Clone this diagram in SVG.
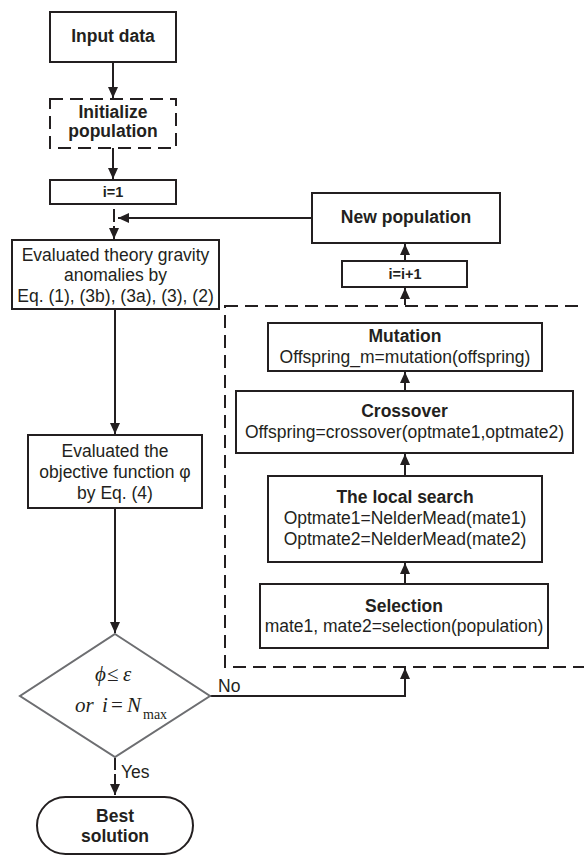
<svg xmlns="http://www.w3.org/2000/svg" width="584" height="856" viewBox="0 0 584 856">
<defs>
<style>
.box{fill:#fff;stroke:#231f20;stroke-width:2}
.dash{fill:none;stroke:#231f20;stroke-width:2;stroke-dasharray:13 7}
.dia{fill:#fff;stroke:#6d6e71;stroke-width:2}
.t{font-family:"Liberation Sans",Arial,sans-serif;font-size:17.5px;fill:#231f20;text-anchor:middle}
.b{font-family:"Liberation Sans",Arial,sans-serif;font-size:17.5px;font-weight:bold;fill:#231f20;text-anchor:middle}
.s{font-family:"Liberation Sans",Arial,sans-serif;font-size:14.5px;font-weight:bold;fill:#231f20;text-anchor:middle}
.m{font-family:"Liberation Serif","Times New Roman",serif;font-size:21px;fill:#231f20}
.c{fill:none;stroke:#231f20;stroke-width:2}
</style>
<marker id="ah" markerUnits="userSpaceOnUse" markerWidth="12" markerHeight="12" viewBox="0 0 12 12" refX="11" refY="6" orient="auto">
<path d="M0,1 L11,6 L0,11 z" fill="#231f20"/>
</marker>
</defs>
<rect width="584" height="856" fill="#fff"/>

<g id="loop-region">
<rect class="dash" x="225" y="306" width="380" height="361"/>
</g>

<g id="connectors">
<line class="c" x1="113" y1="62" x2="113" y2="98" marker-end="url(#ah)"/>
<line class="c" x1="113" y1="148" x2="113" y2="179" marker-end="url(#ah)"/>
<line class="c" x1="114" y1="209" x2="114" y2="222"/>
<line class="c" x1="114" y1="226" x2="114" y2="239" marker-end="url(#ah)"/>
<line class="c" x1="312" y1="218" x2="118" y2="218" marker-end="url(#ah)"/>
<line class="c" x1="115" y1="309" x2="115" y2="434" marker-end="url(#ah)"/>
<line class="c" x1="115" y1="508" x2="115" y2="633" marker-end="url(#ah)"/>
<line class="c" x1="115" y1="758" x2="115" y2="770"/>
<line class="c" x1="115" y1="774" x2="115" y2="795" marker-end="url(#ah)"/>
<path class="c" d="M210,696 H405 V668" marker-end="url(#ah)"/>
<line class="c" x1="405" y1="305" x2="405" y2="288" marker-end="url(#ah)"/>
<line class="c" x1="405" y1="261" x2="405" y2="244" marker-end="url(#ah)"/>
<line class="c" x1="405" y1="584" x2="405" y2="563" marker-end="url(#ah)"/>
<line class="c" x1="405" y1="476" x2="405" y2="454" marker-end="url(#ah)"/>
<line class="c" x1="405" y1="391" x2="405" y2="372" marker-end="url(#ah)"/>
<text class="t" x="218" y="692" style="text-anchor:start">No</text>
<text class="t" x="121" y="778" style="text-anchor:start">Yes</text>
</g>

<g id="input">
<rect class="box" x="50" y="12" width="126" height="50"/>
<text class="b" x="113" y="42">Input data</text>
</g>

<g id="init">
<rect class="dash" x="50" y="99" width="126" height="49"/>
<text class="b" x="113" y="118">Initialize</text>
<text class="b" x="113" y="137">population</text>
</g>

<g id="i1">
<rect class="box" x="50" y="180" width="126" height="24"/>
<text class="s" x="113" y="197">i=1</text>
</g>

<g id="theory">
<rect class="box" x="12" y="240" width="207" height="69"/>
<text class="t" x="115.5" y="261">Evaluated theory gravity</text>
<text class="t" x="115.5" y="281">anomalies by</text>
<text class="t" x="115.5" y="302">Eq. (1), (3b), (3a), (3), (2)</text>
</g>

<g id="objective">
<rect class="box" x="28" y="435" width="174" height="73"/>
<text class="t" x="115" y="457">Evaluated the</text>
<text class="t" x="115" y="478">objective function φ</text>
<text class="t" x="115" y="499">by Eq. (4)</text>
</g>

<g id="decision">
<polygon class="dia" points="115,634 210,696 115,757 20,696"/>
<text class="m" x="95" y="681" font-style="italic">ϕ</text>
<text class="m" x="107" y="681">≤</text>
<text class="m" x="123" y="681" font-style="italic">ε</text>
<text class="m" x="75" y="712" font-style="italic">or</text>
<text class="m" x="102" y="712" font-style="italic">i</text>
<text class="m" x="111" y="712">=</text>
<text class="m" x="127" y="712" font-style="italic">N</text>
<text class="m" x="143" y="719" style="font-size:14px">max</text>
</g>

<g id="best">
<rect class="box" x="37" y="797" width="156" height="57" rx="28.5"/>
<text class="b" x="115" y="822">Best</text>
<text class="b" x="115" y="842">solution</text>
</g>

<g id="newpop">
<rect class="box" x="312" y="193" width="188" height="50"/>
<text class="b" x="406" y="223">New population</text>
</g>

<g id="inc">
<rect class="box" x="342" y="261" width="125" height="26"/>
<text class="s" x="405" y="279">i=i+1</text>
</g>

<g id="mutation">
<rect class="box" x="268" y="323" width="274" height="48"/>
<text class="b" x="405" y="342">Mutation</text>
<text class="t" x="405" y="363">Offspring_m=mutation(offspring)</text>
</g>

<g id="crossover">
<rect class="box" x="236" y="391" width="337" height="62"/>
<text class="b" x="404.5" y="417">Crossover</text>
<text class="t" x="404.5" y="438">Offspring=crossover(optmate1,optmate2)</text>
</g>

<g id="local">
<rect class="box" x="268" y="476" width="274" height="86"/>
<text class="b" x="405" y="503">The local search</text>
<text class="t" x="405" y="524">Optmate1=NelderMead(mate1)</text>
<text class="t" x="405" y="545">Optmate2=NelderMead(mate2)</text>
</g>

<g id="selection">
<rect class="box" x="260" y="584" width="288" height="64"/>
<text class="b" x="404" y="612">Selection</text>
<text class="t" x="404" y="632">mate1, mate2=selection(population)</text>
</g>
</svg>
